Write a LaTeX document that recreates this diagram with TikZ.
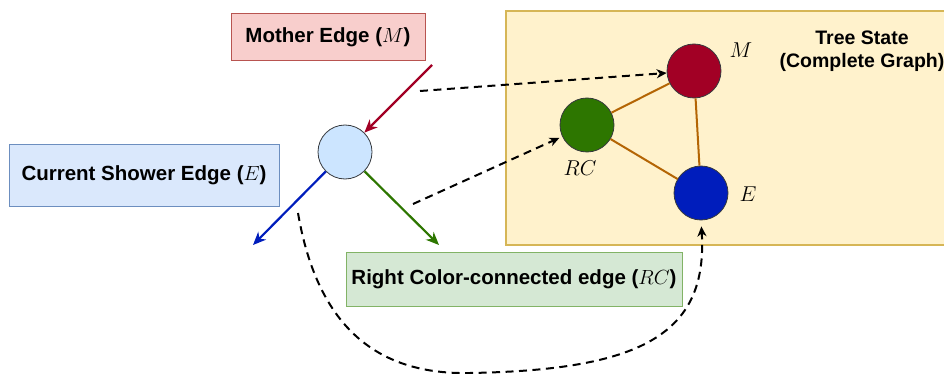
\RequirePackage{fix-cm}
\documentclass[tikz,border=0pt]{standalone}
\usepackage{fontspec}
\setmainfont{Liberation Sans}
\usetikzlibrary{arrows.meta,positioning}
\definecolor{mfill}{HTML}{F8CECC}\definecolor{mdraw}{HTML}{B85450}
\definecolor{efill}{HTML}{DAE8FC}\definecolor{edraw}{HTML}{6C8EBF}
\definecolor{rfill}{HTML}{D5E8D4}\definecolor{rdraw}{HTML}{82B366}
\definecolor{sfill}{HTML}{FFF2CC}\definecolor{sdraw}{HTML}{D6B656}
\definecolor{mcol}{HTML}{A20025}\definecolor{ecol}{HTML}{001DBC}
\definecolor{rcol}{HTML}{2D7600}\definecolor{gcol}{HTML}{B46504}
\definecolor{vfill}{HTML}{CCE5FF}\definecolor{vdraw}{HTML}{36393D}
\tikzset{
  edgebox/.style={draw, rectangle, line width=1pt, inner sep=0pt, font=\bfseries\fontsize{20.5}{24}\selectfont},
  vtx/.style={circle, draw=vdraw, line width=0.8pt, minimum size=54pt, inner sep=0pt},
  vlbl/.style={inner sep=0pt, font=\fontsize{21.5}{25}\selectfont},
  colarrow/.style={line width=2.2pt, -{Stealth[length=13pt,width=11pt,inset=4pt]}},
  dasharrow/.style={line width=2pt, dash pattern=on 8pt off 5.5pt, -{Stealth[length=10pt,width=9pt,inset=3pt]}}
}
\begin{document}
\begin{tikzpicture}[x=1pt, y=-1pt]
\useasboundingbox (0,0) rectangle (944,374);
% tree state panel
\node[draw=sdraw, fill=sfill, line width=2pt, minimum width=450pt, minimum height=234pt] (panel) at (731,128) {};
\node[align=center, font=\bfseries\fontsize{19.5}{23}\selectfont] (title) at (862,51.5) {Tree State\\(Complete Graph)};
% the three edge boxes
\node[edgebox, fill=mfill, draw=mdraw, minimum width=194pt, minimum height=47pt] (mother) at (328,37.5) {Mother Edge ($M$)};
\node[edgebox, fill=efill, draw=edraw, minimum width=270pt, minimum height=61pt] (shower) at (144,175.5) {Current Shower Edge ($E$)};
\node[edgebox, fill=rfill, draw=rdraw, minimum width=336pt, minimum height=54pt] (right) at (514,279) {Right Color-connected edge ($RC$)};
% splitting vertex
\node[vtx, fill=vfill] (split) at (345,152) {};
\coordinate (mstart) at (432,65);
\coordinate (eend) at (253,245);
\coordinate (rcend) at (439,245);
\draw[colarrow, mcol] (mstart) -- (split);
\draw[colarrow, ecol] (split) -- (eend);
\draw[colarrow, rcol] (split) -- (rcend);
% complete graph
\node[vtx, fill=mcol] (M) at (694,71) {};
\node[vtx, fill=rcol] (RC) at (587,125) {};
\node[vtx, fill=ecol] (E) at (701,193) {};
\draw[gcol, line width=2pt] (M) -- (RC) (RC) -- (E) (E) -- (M);
\node[vlbl] (Mlbl) at (741,50) {$M$};
\node[vlbl] (RClbl) at (580,168) {$RC$};
\node[vlbl] (Elbl) at (748,194) {$E$};
% dashed links
\coordinate (d1) at (420,91);
\coordinate (d2) at (413,204);
\coordinate (d3) at (298,213);
\draw[dasharrow] (d1) -- (M);
\draw[dasharrow, shorten >=3pt] (d2) -- (RC.205);
\draw[dasharrow, shorten >=6pt] (d3) .. controls (318,330) and (380,375) .. (470,373)
  .. controls (640,370) and (708,335) .. (E.south);
\end{tikzpicture}
\end{document}
